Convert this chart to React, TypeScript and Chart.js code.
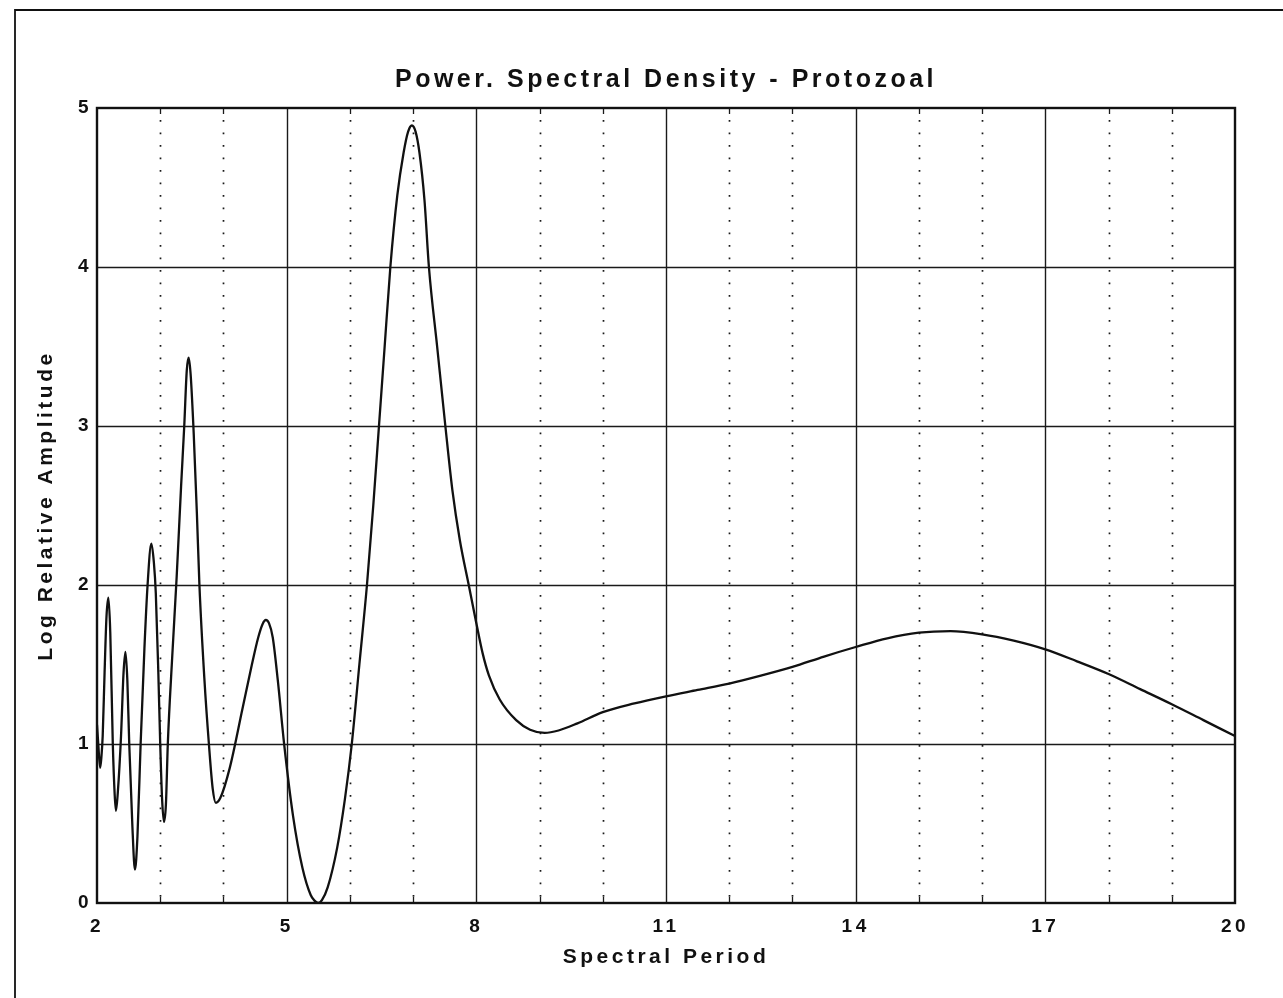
import React, { useEffect, useRef } from "react";
import { Chart, registerables } from "chart.js";

Chart.register(...registerables);

const chartTitle = "Power. Spectral Density - Protozoal";
const xAxisTitle = "Spectral Period";
const yAxisTitle = "Log Relative Amplitude";

const xTickLabels = [2, 5, 8, 11, 14, 17, 20];
const xMajorGrid = [5, 8, 11, 14, 17];
const xMinorGrid = [3, 4, 6, 7, 9, 10, 12, 13, 15, 16, 18, 19];
const yGrid = [1, 2, 3, 4];

const periods = [
  2.0, 2.02, 2.05, 2.07, 2.09, 2.12, 2.15, 2.18, 2.21, 2.25, 2.28, 2.3, 2.33, 2.38, 2.42, 2.45, 2.48,
  2.51, 2.56, 2.6, 2.64, 2.69, 2.75, 2.8, 2.86, 2.9, 2.93, 2.97, 3.0, 3.03, 3.06, 3.09, 3.12, 3.19,
  3.26, 3.33, 3.38, 3.42, 3.45, 3.48, 3.53, 3.58, 3.62, 3.7, 3.77, 3.83, 3.88, 3.95, 4.1, 4.3, 4.45,
  4.55, 4.62, 4.67, 4.72, 4.78, 4.86, 4.96, 5.1, 5.25, 5.38, 5.44, 5.5, 5.56, 5.65, 5.8, 5.92, 6.03,
  6.15, 6.27, 6.37, 6.46, 6.55, 6.64, 6.75, 6.85, 6.92, 6.98, 7.04, 7.1, 7.18, 7.25, 7.38, 7.51,
  7.62, 7.74, 7.88, 8.0, 8.1, 8.2, 8.37, 8.63, 8.85, 9.08, 9.3, 9.6, 10.0, 10.5, 11.0, 11.5, 12.0,
  12.5, 13.0, 13.5, 14.0, 14.5, 15.0, 15.5, 16.0, 16.5, 17.0, 17.5, 18.0, 18.5, 19.0, 19.5, 20.0,
];

const amplitude = [
  1.12, 1.0, 0.85, 0.92, 1.05, 1.45, 1.8, 1.92, 1.7, 1.0, 0.68, 0.58, 0.7, 1.05, 1.45, 1.58, 1.4,
  1.0, 0.48, 0.21, 0.42, 1.0, 1.6, 2.0, 2.26, 2.14, 1.95, 1.45, 1.0, 0.65, 0.51, 0.62, 1.0, 1.55,
  2.05, 2.62, 3.0, 3.35, 3.43, 3.33, 2.95, 2.45, 2.0, 1.4, 1.0, 0.72, 0.63, 0.66, 0.85, 1.22, 1.5,
  1.67, 1.755, 1.78, 1.76, 1.67, 1.4, 1.0, 0.55, 0.22, 0.05, 0.015, 0.0, 0.02, 0.1, 0.35, 0.65, 1.0,
  1.5, 2.0, 2.5, 3.0, 3.5, 4.0, 4.45, 4.72, 4.85, 4.89, 4.85, 4.72, 4.42, 4.0, 3.5, 3.0,
  2.6, 2.28, 2.0, 1.76, 1.57, 1.43, 1.28, 1.15, 1.09, 1.07, 1.085, 1.13, 1.2, 1.255, 1.3, 1.34, 1.38,
  1.43, 1.485, 1.55, 1.61, 1.665, 1.7, 1.71, 1.69, 1.65, 1.595, 1.52, 1.44, 1.345, 1.25, 1.15, 1.05,
];

const W = 1283;
const H = 998;
const FONT = "'Liberation Sans', Arial, Helvetica, sans-serif";

const gridPlugin = {
  id: "customGrid",
  beforeDraw(chart: any) {
    const ctx = chart.ctx;
    try {
      ctx.letterSpacing = "3.5px";
    } catch (e) {}
  },
  beforeDatasetsDraw(chart: any) {
    const { ctx, chartArea, scales } = chart;
    const { left, right, top, bottom } = chartArea;
    const xs = scales.x;
    const ys = scales.y;
    ctx.save();
    ctx.strokeStyle = "#1a1a1a";
    ctx.lineWidth = 1.7;
    ctx.setLineDash([1.7, 10.8]);
    for (const v of xMinorGrid) {
      const px = Math.round(xs.getPixelForValue(v)) + 0.5;
      ctx.beginPath();
      ctx.moveTo(px, top + 12);
      ctx.lineTo(px, bottom - 4);
      ctx.stroke();
    }
    ctx.setLineDash([]);
    ctx.lineWidth = 1.3;
    for (const v of xMinorGrid) {
      const px = Math.round(xs.getPixelForValue(v)) + 0.5;
      ctx.beginPath();
      ctx.moveTo(px, top);
      ctx.lineTo(px, top + 6);
      ctx.moveTo(px, bottom);
      ctx.lineTo(px, bottom - 6);
      ctx.stroke();
    }
    ctx.lineWidth = 1.4;
    for (const v of xMajorGrid) {
      const px = Math.round(xs.getPixelForValue(v)) + 0.5;
      ctx.beginPath();
      ctx.moveTo(px, top);
      ctx.lineTo(px, bottom);
      ctx.stroke();
    }
    for (const v of yGrid) {
      const py = Math.round(ys.getPixelForValue(v)) + 0.5;
      ctx.beginPath();
      ctx.moveTo(left, py);
      ctx.lineTo(right, py);
      ctx.stroke();
    }
    ctx.restore();
  },
  afterDraw(chart: any) {
    const { ctx, chartArea } = chart;
    const { left, right, top, bottom } = chartArea;
    ctx.save();
    ctx.strokeStyle = "#111";
    ctx.lineWidth = 2.4;
    ctx.strokeRect(left, top, right - left, bottom - top);
    ctx.lineWidth = 1.8;
    ctx.beginPath();
    ctx.moveTo(15, H);
    ctx.lineTo(15, 10);
    ctx.lineTo(W, 10);
    ctx.stroke();
    ctx.restore();
  },
};

export default function App() {
  const canvasRef = useRef<HTMLCanvasElement | null>(null);

  useEffect(() => {
    const canvas = canvasRef.current;
    if (!canvas) return;
    const points = periods.map((p, i) => ({ x: p, y: amplitude[i] }));
    const chart = new Chart(canvas, {
      type: "line",
      data: {
        datasets: [
          {
            data: points,
            borderColor: "#111",
            borderWidth: 2.3,
            pointRadius: 0,
            fill: false,
            cubicInterpolationMode: "monotone",
          },
        ],
      },
      plugins: [gridPlugin],
      options: {
        animation: false,
        responsive: false,
        devicePixelRatio: 1,
        layout: { padding: { left: 0, right: 48, top: 10, bottom: 0 } },
        plugins: {
          legend: { display: false },
          tooltip: { enabled: false },
          title: {
            display: true,
            fullSize: false,
            text: chartTitle,
            color: "#111",
            font: { family: FONT, size: 25, weight: "bold" },
            padding: { top: 55, bottom: 13 },
          },
        },
        scales: {
          x: {
            type: "linear",
            min: 2,
            max: 20,
            afterBuildTicks: (scale: any) => {
              scale.ticks = xTickLabels.map((v) => ({ value: v }));
            },
            afterFit: (scale: any) => {
              scale.height = H - 903;
            },
            grid: { display: false, drawTicks: false },
            border: { display: false },
            ticks: {
              color: "#111",
              padding: 12,
              maxRotation: 0,
              autoSkip: false,
              font: { family: FONT, size: 19, weight: "bold" },
              callback: (v: any) => String(v),
            },
            title: {
              display: true,
              text: xAxisTitle,
              color: "#111",
              font: { family: FONT, size: 21, weight: "bold" },
              padding: { top: 0, bottom: 28 },
            },
          },
          y: {
            type: "linear",
            min: 0,
            max: 5,
            afterFit: (scale: any) => {
              scale.width = 97;
            },
            grid: { display: false, drawTicks: false },
            border: { display: false },
            ticks: {
              stepSize: 1,
              color: "#111",
              padding: 5,
              font: { family: FONT, size: 19, weight: "bold" },
            },
            title: {
              display: true,
              text: yAxisTitle,
              color: "#111",
              font: { family: FONT, size: 21, weight: "bold" },
              padding: { top: 34, bottom: 0 },
            },
          },
        },
      },
    } as any);
    return () => chart.destroy();
  }, []);

  return (
    <div style={{ position: "absolute", left: 0, top: 0, width: W, height: H, background: "#fff" }}>
      <canvas ref={canvasRef} width={W} height={H} style={{ display: "block", width: W, height: H }} />
    </div>
  );
}
